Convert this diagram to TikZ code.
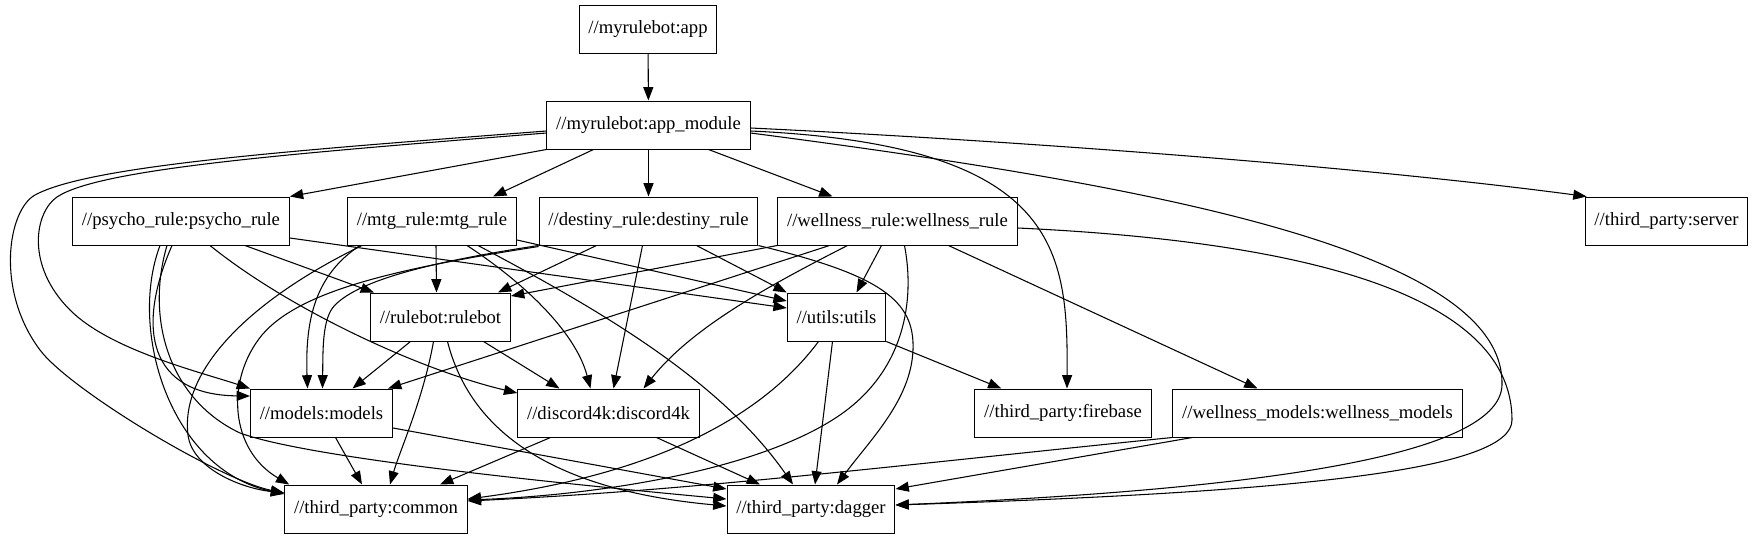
\documentclass[tikz,border=0pt]{standalone}
\usepackage{fontspec}
\setmainfont{Liberation Serif}
\usetikzlibrary{arrows.meta,calc}

\begin{document}
\begin{tikzpicture}[x=0.75pt,y=-0.75pt,
  box/.style={draw,line width=0.75pt,rectangle,minimum height=36pt,inner xsep=7pt,font=\fontsize{14}{16}\selectfont},
  dep/.style={line width=0.8pt,-{Triangle[length=10pt,width=7.5pt]}}]
\useasboundingbox (0,0) rectangle (1753,539);
\node[box] (app) at (648,29) {//myrulebot:app};
\node[box] (appmod) at (648.5,125) {//myrulebot:app\_module};
\node[box] (psycho) at (181,221) {//psycho\_rule:psycho\_rule};
\node[box] (mtg) at (432,221) {//mtg\_rule:mtg\_rule};
\node[box] (destiny) at (648.5,221) {//destiny\_rule:destiny\_rule};
\node[box] (wellrule) at (897.5,221) {//wellness\_rule:wellness\_rule};
\node[box] (server) at (1666.5,221) {//third\_party:server};
\node[box] (rulebot) at (440.5,317) {//rulebot:rulebot};
\node[box] (utils) at (836.5,317) {//utils:utils};
\node[box] (models) at (321.5,413) {//models:models};
\node[box] (discord) at (608.5,413) {//discord4k:discord4k};
\node[box] (firebase) at (1063,413) {//third\_party:firebase};
\node[box] (wellmodels) at (1317.5,413) {//wellness\_models:wellness\_models};
\node[box] (common) at (376,509) {//third\_party:common};
\node[box] (dagger) at (811,509) {//third\_party:dagger};

\draw[dep] (app) -- (appmod);
\draw[dep] (appmod.south west) -- (psycho.north east);
\draw[dep] ($(appmod.south)+(-55,0)$) -- ($(mtg.north)+(61,0)$);
\draw[dep] (appmod) -- (destiny);
\draw[dep] ($(appmod.south)+(60,0)$) -- ($(wellrule.north)+(-65,0)$);
\draw[dep] ($(appmod.east)+(0,3)$) .. controls (1000,140) and (1350,165) .. ($(server.north west)+(2,0)$);
\draw[dep] ($(appmod.east)+(0,6)$) .. controls (1060,145) and (1068,250) .. ($(firebase.north)+(4,0)$);
\draw[dep] ($(appmod.east)+(0,8)$) .. controls (1150,185) and (1505,250) .. (1502,385) .. controls (1500,450) and (1300,488) .. ($(dagger.east)+(0,-4)$);
\draw[dep] ($(appmod.west)+(0,6)$) .. controls (300,150) and (90,165) .. (35,195) .. controls (8,210) and (-5,290) .. (40,350) .. controls (70,390) and (220,480) .. ($(common.west)+(0,-16)$);
\draw[dep] ($(appmod.west)+(0,8)$) .. controls (300,153) and (100,168) .. (57,197) .. controls (35,212) and (25,265) .. (70,310) .. controls (110,350) and (200,372) .. (models.north west);

\draw[dep] ($(psycho.south)+(64,0)$) -- ($(rulebot.north west)+(4,0)$);
\draw[dep] ($(psycho.east)+(0,17)$) -- ($(utils.west)+(0,-9)$);
\draw[dep] ($(psycho.south)+(-9,0)$) .. controls (135,330) and (150,395) .. ($(models.west)+(0,-17)$);
\draw[dep] ($(psycho.south)+(-21,0)$) .. controls (128,330) and (170,470) .. ($(common.west)+(0,-15)$);
\draw[dep] ($(psycho.south)+(-14,0)$) .. controls (145,320) and (170,400) .. (240,433) .. controls (300,455) and (500,478) .. ($(dagger.west)+(0,-10)$);
\draw[dep] ($(psycho.south)+(29,0)$) .. controls (290,310) and (420,370) .. ($(discord.west)+(0,-20)$);

\draw[dep] ($(mtg.south)+(4,0)$) -- ($(rulebot.north)+(-4,0)$);
\draw[dep] ($(mtg.east)+(0,19)$) -- ($(utils.west)+(0,-16)$);
\draw[dep] ($(mtg.south west)+(13,0)$) .. controls (315,275) and (305,320) .. ($(models.north)+(-14,0)$);
\draw[dep] ($(mtg.south west)+(15,0)$) .. controls (250,300) and (180,370) .. (188,435) .. controls (192,468) and (240,488) .. ($(common.west)+(0,-16)$);
\draw[dep] ($(mtg.south)+(35,0)$) .. controls (520,280) and (575,330) .. ($(discord.north)+(-18,0)$);
\draw[dep] ($(mtg.south)+(46,0)$) .. controls (600,310) and (720,380) .. ($(dagger.north)+(-18,0)$);

\draw[dep] ($(destiny.south)+(-52,0)$) -- ($(rulebot.north east)+(-13,0)$);
\draw[dep] ($(destiny.south)+(48,0)$) -- (utils.north west);
\draw[dep] ($(destiny.south)+(-6,0)$) -- ($(discord.north)+(5,0)$);
\draw[dep] (destiny.south east) .. controls (880,275) and (915,300) .. (913,350) .. controls (911,400) and (870,440) .. ($(dagger.north)+(26,0)$);
\draw[dep] (destiny.south west) .. controls (430,262) and (360,280) .. (335,305) .. controls (322,318) and (323,350) .. ($(models.north)+(1,0)$);
\draw[dep] ($(destiny.south west)+(0,1)$) .. controls (400,268) and (300,290) .. (262,335) .. controls (225,380) and (230,450) .. ($(common.north west)+(5,0)$);

\draw[dep] (wellrule.south west) -- ($(rulebot.east)+(0,-21)$);
\draw[dep] ($(wellrule.south)+(-68,0)$) -- ($(models.north east)+(-5,0)$);
\draw[dep] ($(wellrule.south)+(-16,0)$) -- ($(utils.north)+(20,0)$);
\draw[dep] ($(wellrule.south)+(-50,0)$) .. controls (760,290) and (690,330) .. ($(discord.north)+(35,0)$);
\draw[dep] ($(wellrule.south)+(7,0)$) .. controls (915,300) and (905,370) .. (840,415) .. controls (760,470) and (600,495) .. ($(common.east)+(0,-9)$);
\draw[dep] ($(wellrule.east)+(0,7)$) .. controls (1380,245) and (1512,320) .. (1512,420) .. controls (1512,470) and (1300,492) .. ($(dagger.east)+(0,-4)$);
\draw[dep] ($(wellrule.south)+(51,0)$) -- ($(wellmodels.north)+(-60,0)$);

\draw[dep] ($(rulebot.south)+(-30,0)$) -- ($(models.north)+(31,0)$);
\draw[dep] ($(rulebot.south)+(43,0)$) -- ($(discord.north)+(-49,0)$);
\draw[dep] ($(rulebot.south)+(-7,0)$) .. controls (423,400) and (400,450) .. ($(common.north)+(14,0)$);
\draw[dep] ($(rulebot.south)+(7,0)$) .. controls (470,430) and (550,490) .. ($(dagger.west)+(0,-3)$);

\draw[dep] (utils.south east) -- ($(firebase.north west)+(27,0)$);
\draw[dep] ($(utils.south)+(-18,0)$) .. controls (760,420) and (650,475) .. ($(common.east)+(0,-10)$);
\draw[dep] ($(utils.south)+(-4,0)$) -- ($(dagger.north)+(4,0)$);

\draw[dep] ($(models.south)+(14,0)$) -- ($(common.north)+(-14,0)$);
\draw[dep] ($(models.east)+(0,15)$) -- ($(dagger.west)+(0,-20)$);
\draw[dep] ($(discord.south)+(-58,0)$) -- ($(common.north)+(64,0)$);
\draw[dep] ($(discord.south)+(48,0)$) -- ($(dagger.north)+(-51,0)$);
\draw[dep] (wellmodels.south west) .. controls (900,465) and (700,490) .. ($(common.east)+(0,-8)$);
\draw[dep] ($(wellmodels.south west)+(20,0)$) -- ($(dagger.east)+(0,-20)$);
\end{tikzpicture}
\end{document}
